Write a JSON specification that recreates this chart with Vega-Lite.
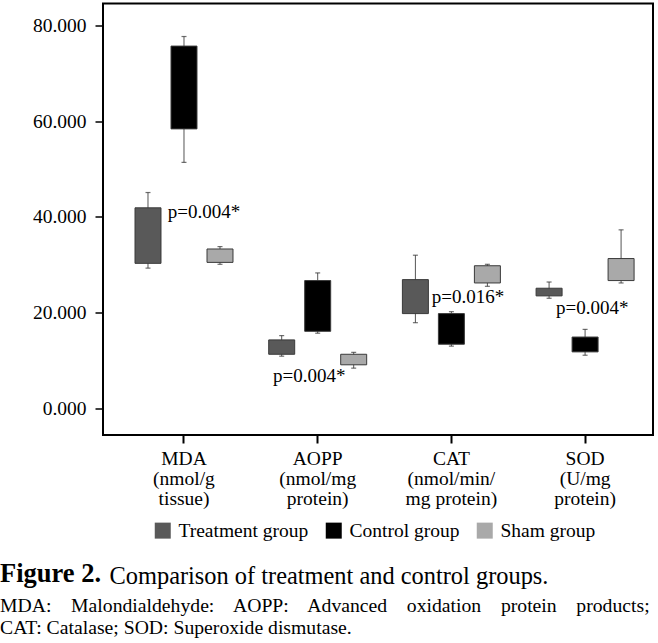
{
  "$schema": "https://vega.github.io/schema/vega-lite/v6.json",
  "width": 550,
  "height": 431.5,
  "autosize": {"type": "none"},
  "padding": {"left": 103, "top": 3.5, "right": 5, "bottom": 208},
  "background": "white",
  "title": {
    "text": "Figure 2.",
    "orient": "bottom",
    "anchor": "start",
    "frame": "group",
    "font": "Liberation Serif",
    "fontSize": 26.5,
    "fontWeight": "bold",
    "color": "black",
    "dx": -103,
    "dy": -26,
    "offset": 0,
    "subtitle": [
      "MDA:\u00a0\u00a0\u00a0 Malondialdehyde:\u00a0\u00a0\u00a0 AOPP:\u00a0\u00a0\u00a0 Advanced\u00a0\u00a0\u00a0 oxidation\u00a0\u00a0\u00a0 protein\u00a0\u00a0\u00a0 products;",
      "CAT: Catalase; SOD: Superoxide dismutase."
    ],
    "subtitleFont": "Liberation Serif",
    "subtitleFontSize": 19.7,
    "subtitleColor": "black",
    "subtitleLineHeight": 22,
    "subtitlePadding": 8
  },
  "data": {
    "values": [
      {"cat": "MDA", "group": "Treatment group", "lo": 29.3, "q1": 30.3, "q3": 41.9, "hi": 45.1},
      {"cat": "MDA", "group": "Control group", "lo": 51.4, "q1": 58.4, "q3": 75.7, "hi": 77.7},
      {"cat": "MDA", "group": "Sham group", "lo": 30.1, "q1": 30.5, "q3": 33.3, "hi": 33.8},
      {"cat": "AOPP", "group": "Treatment group", "lo": 10.9, "q1": 11.3, "q3": 14.3, "hi": 15.2},
      {"cat": "AOPP", "group": "Control group", "lo": 15.7, "q1": 16.1, "q3": 26.7, "hi": 28.3},
      {"cat": "AOPP", "group": "Sham group", "lo": 8.4, "q1": 9.1, "q3": 11.3, "hi": 11.7},
      {"cat": "CAT", "group": "Treatment group", "lo": 17.9, "q1": 19.8, "q3": 26.9, "hi": 32.0},
      {"cat": "CAT", "group": "Control group", "lo": 13.0, "q1": 13.4, "q3": 19.8, "hi": 20.2},
      {"cat": "CAT", "group": "Sham group", "lo": 25.5, "q1": 26.2, "q3": 29.8, "hi": 30.1},
      {"cat": "SOD", "group": "Treatment group", "lo": 23.0, "q1": 23.5, "q3": 25.1, "hi": 26.4},
      {"cat": "SOD", "group": "Control group", "lo": 11.1, "q1": 11.8, "q3": 14.9, "hi": 16.5},
      {"cat": "SOD", "group": "Sham group", "lo": 26.2, "q1": 26.7, "q3": 31.3, "hi": 37.3}
    ]
  },
  "encoding": {
    "x": {
      "field": "cat",
      "type": "nominal",
      "sort": ["MDA", "AOPP", "CAT", "SOD"],
      "scale": {"domain": ["MDA", "AOPP", "CAT", "SOD"], "paddingInner": 0, "paddingOuter": 0.0569, "align": 0.93},
      "axis": {
        "labelExpr": "{'MDA':['MDA','(nmol/g','tissue)'],'AOPP':['AOPP','(nmol/mg','protein)'],'CAT':['CAT','(nmol/min/','mg protein)'],'SOD':['SOD','(U/mg','protein)']}[datum.value]",
        "title": "Comparison of treatment and control groups.",
        "titleX": 6,
        "titleY": 148,
        "titleAlign": "left",
        "titleBaseline": "alphabetic",
        "titleFont": "Liberation Serif",
        "titleFontSize": 24.4,
        "titleFontWeight": "normal",
        "titleColor": "black"
      }
    }
  },
  "layer": [
    {
      "mark": {"type": "rule", "color": "#555555", "strokeWidth": 1},
      "encoding": {
        "xOffset": {"field": "group", "type": "nominal", "sort": ["Treatment group", "Control group", "Sham group"], "scale": {"paddingInner": 0.278, "paddingOuter": 0.496}},
        "y": {"field": "lo", "type": "quantitative", "title": null, "scale": {"domain": [-5.57, 84.6], "nice": false, "zero": false}, "axis": {"values": [0, 20, 40, 60, 80], "format": ".3f"}},
        "y2": {"field": "hi"}
      }
    },
    {
      "mark": {"type": "tick", "color": "#333333", "size": 5, "thickness": 1.2},
      "encoding": {
        "xOffset": {"field": "group", "type": "nominal", "sort": ["Treatment group", "Control group", "Sham group"], "scale": {"paddingInner": 0.278, "paddingOuter": 0.496}},
        "y": {"field": "lo", "type": "quantitative", "title": null, "scale": {"domain": [-5.57, 84.6], "nice": false, "zero": false}, "axis": {"values": [0, 20, 40, 60, 80], "format": ".3f"}}
      }
    },
    {
      "mark": {"type": "tick", "color": "#333333", "size": 5, "thickness": 1.2},
      "encoding": {
        "xOffset": {"field": "group", "type": "nominal", "sort": ["Treatment group", "Control group", "Sham group"], "scale": {"paddingInner": 0.278, "paddingOuter": 0.496}},
        "y": {"field": "hi", "type": "quantitative", "title": null, "scale": {"domain": [-5.57, 84.6], "nice": false, "zero": false}, "axis": {"values": [0, 20, 40, 60, 80], "format": ".3f"}}
      }
    },
    {
      "mark": {"type": "bar", "stroke": "#3a3a3a", "strokeWidth": 1, "opacity": 1},
      "encoding": {
        "xOffset": {"field": "group", "type": "nominal", "sort": ["Treatment group", "Control group", "Sham group"], "scale": {"paddingInner": 0.278, "paddingOuter": 0.496}},
        "y": {"field": "q1", "type": "quantitative", "title": null, "scale": {"domain": [-5.57, 84.6], "nice": false, "zero": false}, "axis": {"values": [0, 20, 40, 60, 80], "format": ".3f"}},
        "y2": {"field": "q3"},
        "color": {
          "field": "group",
          "type": "nominal",
          "sort": ["Treatment group", "Control group", "Sham group"],
          "scale": {"domain": ["Treatment group", "Control group", "Sham group"], "range": ["#595959", "#000000", "#a9a9a9"]},
          "legend": {
            "orient": "none",
            "direction": "horizontal",
            "legendX": 50,
            "legendY": 517,
            "title": null,
            "symbolType": "square",
            "symbolSize": 256,
            "symbolStrokeWidth": 0,
            "symbolOpacity": 1,
            "labelFont": "Liberation Serif",
            "labelFontSize": 19.5,
            "labelColor": "black",
            "labelOffset": 6,
            "labelLimit": 300,
            "columnPadding": 15,
            "padding": 0
          }
        }
      }
    },
    {
      "data": {"values": [{"cat": "MDA", "y": 41.1, "label": "p=0.004*"}]},
      "mark": {"type": "text", "align": "left", "baseline": "middle", "dx": -16.3, "font": "Liberation Serif", "fontSize": 19, "color": "black"},
      "encoding": {
        "y": {"field": "y", "type": "quantitative", "title": null, "scale": {"domain": [-5.57, 84.6], "nice": false, "zero": false}, "axis": {"values": [0, 20, 40, 60, 80], "format": ".3f"}},
        "text": {"field": "label"}
      }
    },
    {
      "data": {"values": [{"cat": "AOPP", "y": 6.7, "label": "p=0.004*"}]},
      "mark": {"type": "text", "align": "left", "baseline": "middle", "dx": -44.7, "font": "Liberation Serif", "fontSize": 19, "color": "black"},
      "encoding": {
        "y": {"field": "y", "type": "quantitative", "title": null, "scale": {"domain": [-5.57, 84.6], "nice": false, "zero": false}, "axis": {"values": [0, 20, 40, 60, 80], "format": ".3f"}},
        "text": {"field": "label"}
      }
    },
    {
      "data": {"values": [{"cat": "CAT", "y": 23.3, "label": "p=0.016*"}]},
      "mark": {"type": "text", "align": "left", "baseline": "middle", "dx": -19.7, "font": "Liberation Serif", "fontSize": 19, "color": "black"},
      "encoding": {
        "y": {"field": "y", "type": "quantitative", "title": null, "scale": {"domain": [-5.57, 84.6], "nice": false, "zero": false}, "axis": {"values": [0, 20, 40, 60, 80], "format": ".3f"}},
        "text": {"field": "label"}
      }
    },
    {
      "data": {"values": [{"cat": "SOD", "y": 20.9, "label": "p=0.004*"}]},
      "mark": {"type": "text", "align": "left", "baseline": "middle", "dx": -29, "font": "Liberation Serif", "fontSize": 19, "color": "black"},
      "encoding": {
        "y": {"field": "y", "type": "quantitative", "title": null, "scale": {"domain": [-5.57, 84.6], "nice": false, "zero": false}, "axis": {"values": [0, 20, 40, 60, 80], "format": ".3f"}},
        "text": {"field": "label"}
      }
    }
  ],
  "config": {
    "view": {"stroke": "#000000", "strokeWidth": 2},
    "axisX": {
      "domain": false,
      "grid": false,
      "ticks": true,
      "tickSize": 8,
      "tickWidth": 2,
      "tickColor": "black",
      "labelAngle": 0,
      "labelFont": "Liberation Serif",
      "labelFontSize": 19.5,
      "labelColor": "black",
      "labelPadding": 6,
      "labelLineHeight": 20,
      "labelBaseline": "top"
    },
    "axisY": {
      "domain": false,
      "grid": false,
      "ticks": true,
      "tickSize": 8,
      "tickWidth": 1.5,
      "tickColor": "black",
      "labelFont": "Liberation Serif",
      "labelFontSize": 19.5,
      "labelColor": "black",
      "labelPadding": 9,
      "labelBaseline": "middle"
    }
  }
}
